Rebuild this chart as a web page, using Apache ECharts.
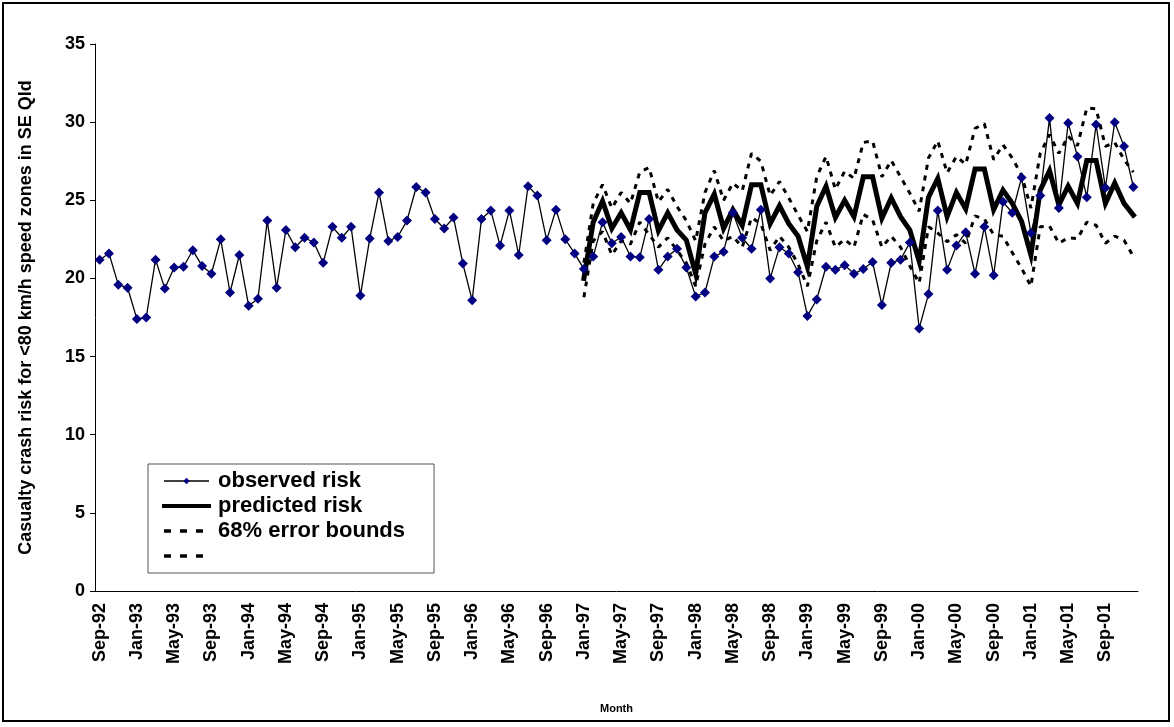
<!DOCTYPE html>
<html>
<head>
<meta charset="utf-8">
<script src="https://cdn.jsdelivr.net/npm/echarts@6/dist/echarts.min.js"></script>
<style>
html,body{margin:0;padding:0;background:#fff;}
#chart{width:1174px;height:727px;}
</style>
</head>
<body>
<div id="chart"></div>
<script>
// ---- data ----
const monthNames = ['Jan','Feb','Mar','Apr','May','Jun','Jul','Aug','Sep','Oct','Nov','Dec'];
const categories = [];
for (let i = 0; i < 112; i++) {
  const m = (8 + i) % 12;
  const y = 92 + Math.floor((8 + i) / 12);
  categories.push(monthNames[m] + '-' + String(y % 100).padStart(2, '0'));
}

const observed = [
  21.2, 21.6, 19.6, 19.4, 17.4, 17.5, 21.2, 19.35, 20.7, 20.75, 21.8, 20.8,
  20.3, 22.5, 19.1, 21.5, 18.25, 18.7, 23.7, 19.4, 23.1, 22.0, 22.6, 22.3,
  21.0, 23.3, 22.6, 23.3, 18.9, 22.55, 25.5, 22.4, 22.65, 23.7, 25.85, 25.5,
  23.8, 23.2, 23.9, 20.95, 18.6, 23.8, 24.35, 22.1, 24.35, 21.5, 25.9, 25.3,
  22.45, 24.4, 22.5, 21.6, 20.6, 21.4, 23.6, 22.25, 22.65, 21.4, 21.35, 23.8,
  20.55, 21.4, 21.9, 20.7, 18.85, 19.1, 21.4, 21.7, 24.2, 22.6, 21.9, 24.4,
  20.0, 22.0, 21.6, 20.4, 17.6, 18.65, 20.75, 20.55, 20.85, 20.3, 20.6, 21.05,
  18.3, 21.0, 21.2, 22.3, 16.8, 19.0, 24.35, 20.55, 22.1, 22.95, 20.3, 23.3,
  20.2, 24.9, 24.2, 26.45, 22.9, 25.3, 30.26, 24.5, 29.95, 27.8, 25.2, 29.85,
  25.8, 30.0, 28.45, 25.85
];

// predicted and bounds start at Jan-97 (index 52)
const forecastStart = 52;
const predicted = [
  20.0, 23.6, 24.95, 23.2, 24.2, 23.1, 25.5, 25.5, 23.05, 24.2, 23.1, 22.45,
  20.3, 24.2, 25.4, 23.2, 24.4, 23.4, 26.0, 26.0, 23.5, 24.65, 23.5, 22.7,
  20.75, 24.6, 25.9, 23.9, 25.0, 23.95, 26.5, 26.5, 23.85, 25.15, 23.95, 23.1,
  21.1, 25.2, 26.4, 23.95, 25.5, 24.45, 27.0, 27.0, 24.4, 25.65, 24.8, 23.65,
  21.5, 25.65, 26.9, 24.7, 25.9, 24.8, 27.55, 27.55, 24.8, 26.1, 24.8, 24.05
];
const upperBound = [
  21.0, 24.8, 26.0, 24.5, 25.5, 24.8, 26.8, 27.1, 24.9, 25.7, 24.6, 23.7,
  22.4, 25.5, 26.9, 25.0, 26.1, 25.6, 28.0, 27.5, 25.3, 26.2, 25.15, 24.05,
  23.0, 26.5, 27.8, 25.7, 26.85, 26.4, 28.7, 28.8, 26.5, 27.55, 26.5, 25.45,
  24.3, 27.7, 28.8, 26.75, 27.8, 27.3, 29.6, 29.9, 27.6, 28.55, 27.7, 26.6,
  24.5, 28.0, 29.2, 28.0, 29.1, 28.5, 30.9, 30.85, 28.45, 28.7, 27.6, 26.8
];
const lowerBound = [
  18.8, 22.4, 23.0, 21.5, 22.4, 22.2, 23.6, 22.8, 22.0, 22.6, 21.8, 21.0,
  19.5, 22.2, 23.3, 22.4, 22.7, 22.0, 23.9, 23.5, 21.8, 22.7, 22.0, 20.9,
  19.5, 22.4, 23.6, 22.0, 22.5, 22.0, 24.1, 23.75, 22.0, 22.7, 22.0, 20.8,
  19.7, 23.3, 22.9, 22.35, 22.8, 22.25, 24.0, 23.8, 22.8, 22.7, 21.65, 20.65,
  19.5, 23.3, 23.35, 22.25, 22.6, 22.55, 23.6, 23.4, 22.25, 22.7, 22.45, 21.4
];

const pad = Array(forecastStart).fill(null);
const FONT = '"Liberation Sans", Arial, sans-serif';
const DASH = [5, 6];

const chart = echarts.init(document.getElementById('chart'), null, {renderer: 'canvas'});
chart.setOption({
  animation: false,
  backgroundColor: '#fff',
  graphic: [{
    type: 'rect',
    shape: {x: 3, y: 3, width: 1166, height: 718},
    style: {fill: 'none', stroke: '#000', lineWidth: 2},
    silent: true, z: -10
  }],
  grid: {left: 95, right: 36, top: 44, bottom: 136, containLabel: false},
  legend: {
    orient: 'vertical',
    left: 148, top: 464,
    data: [
      {name: 'observed risk', itemStyle: {color: '#000080'}, lineStyle: {width: 1.3, color: '#000'}},
      {name: 'predicted risk', itemStyle: {opacity: 0}, lineStyle: {width: 4, color: '#000'}},
      {name: '68% error bounds', itemStyle: {opacity: 0}, lineStyle: {width: 3.5, color: '#000', type: [7, 9]}},
      {name: ' ', itemStyle: {opacity: 0}, lineStyle: {width: 3.5, color: '#000', type: [7, 9]}}
    ],
    itemWidth: 45, itemHeight: 8, itemGap: 3,
    padding: [6, 29, 6, 14],
    backgroundColor: '#fff',
    borderColor: '#555', borderWidth: 1, borderRadius: 0,
    textStyle: {fontFamily: FONT, fontWeight: 'bold', fontSize: 22, color: '#000', padding: [0, 0, 0, 4]},
    selectedMode: false
  },
  xAxis: {
    type: 'category',
    data: categories,
    boundaryGap: true,
    name: 'Month',
    nameLocation: 'middle',
    nameGap: 112,
    nameTextStyle: {fontFamily: FONT, fontWeight: 'bold', fontSize: 11, color: '#000'},
    axisLine: {lineStyle: {color: '#000', width: 1}},
    axisTick: {interval: 3, length: 5, lineStyle: {color: '#000'}},
    axisLabel: {interval: 3, rotate: 90, margin: 12, fontFamily: FONT, fontWeight: 'bold', fontSize: 18, color: '#000'},
    splitLine: {show: false}
  },
  yAxis: {
    type: 'value',
    min: 0, max: 35, interval: 5,
    name: 'Casualty crash risk for <80 km/h speed zones in SE Qld',
    nameLocation: 'middle',
    nameGap: 60,
    nameTextStyle: {fontFamily: FONT, fontWeight: 'bold', fontSize: 18, color: '#000'},
    axisLine: {show: true, lineStyle: {color: '#000', width: 1}},
    axisTick: {show: true, length: 5, lineStyle: {color: '#000'}},
    axisLabel: {margin: 10, fontFamily: FONT, fontWeight: 'bold', fontSize: 18, color: '#000'},
    splitLine: {show: false}
  },
  series: [
    {
      name: '68% error bounds', type: 'line',
      data: pad.concat(upperBound),
      symbol: 'none',
      lineStyle: {color: '#000', width: 3, type: DASH},
      itemStyle: {color: '#000'}, z: 2
    },
    {
      name: ' ', type: 'line',
      data: pad.concat(lowerBound),
      symbol: 'none',
      lineStyle: {color: '#000', width: 3, type: DASH},
      itemStyle: {color: '#000'}, z: 2
    },
    {
      name: 'predicted risk', type: 'line',
      data: pad.concat(predicted),
      symbol: 'none',
      lineStyle: {color: '#000', width: 5, cap: 'square', join: 'miter'},
      itemStyle: {color: '#000'}, z: 3
    },
    {
      name: 'observed risk', type: 'line',
      data: observed,
      symbol: 'diamond', symbolSize: 10,
      showAllSymbol: true,
      lineStyle: {color: '#000', width: 1.3},
      itemStyle: {color: '#000080', borderWidth: 0},
      z: 4
    }
  ]
});
</script>
</body>
</html>
